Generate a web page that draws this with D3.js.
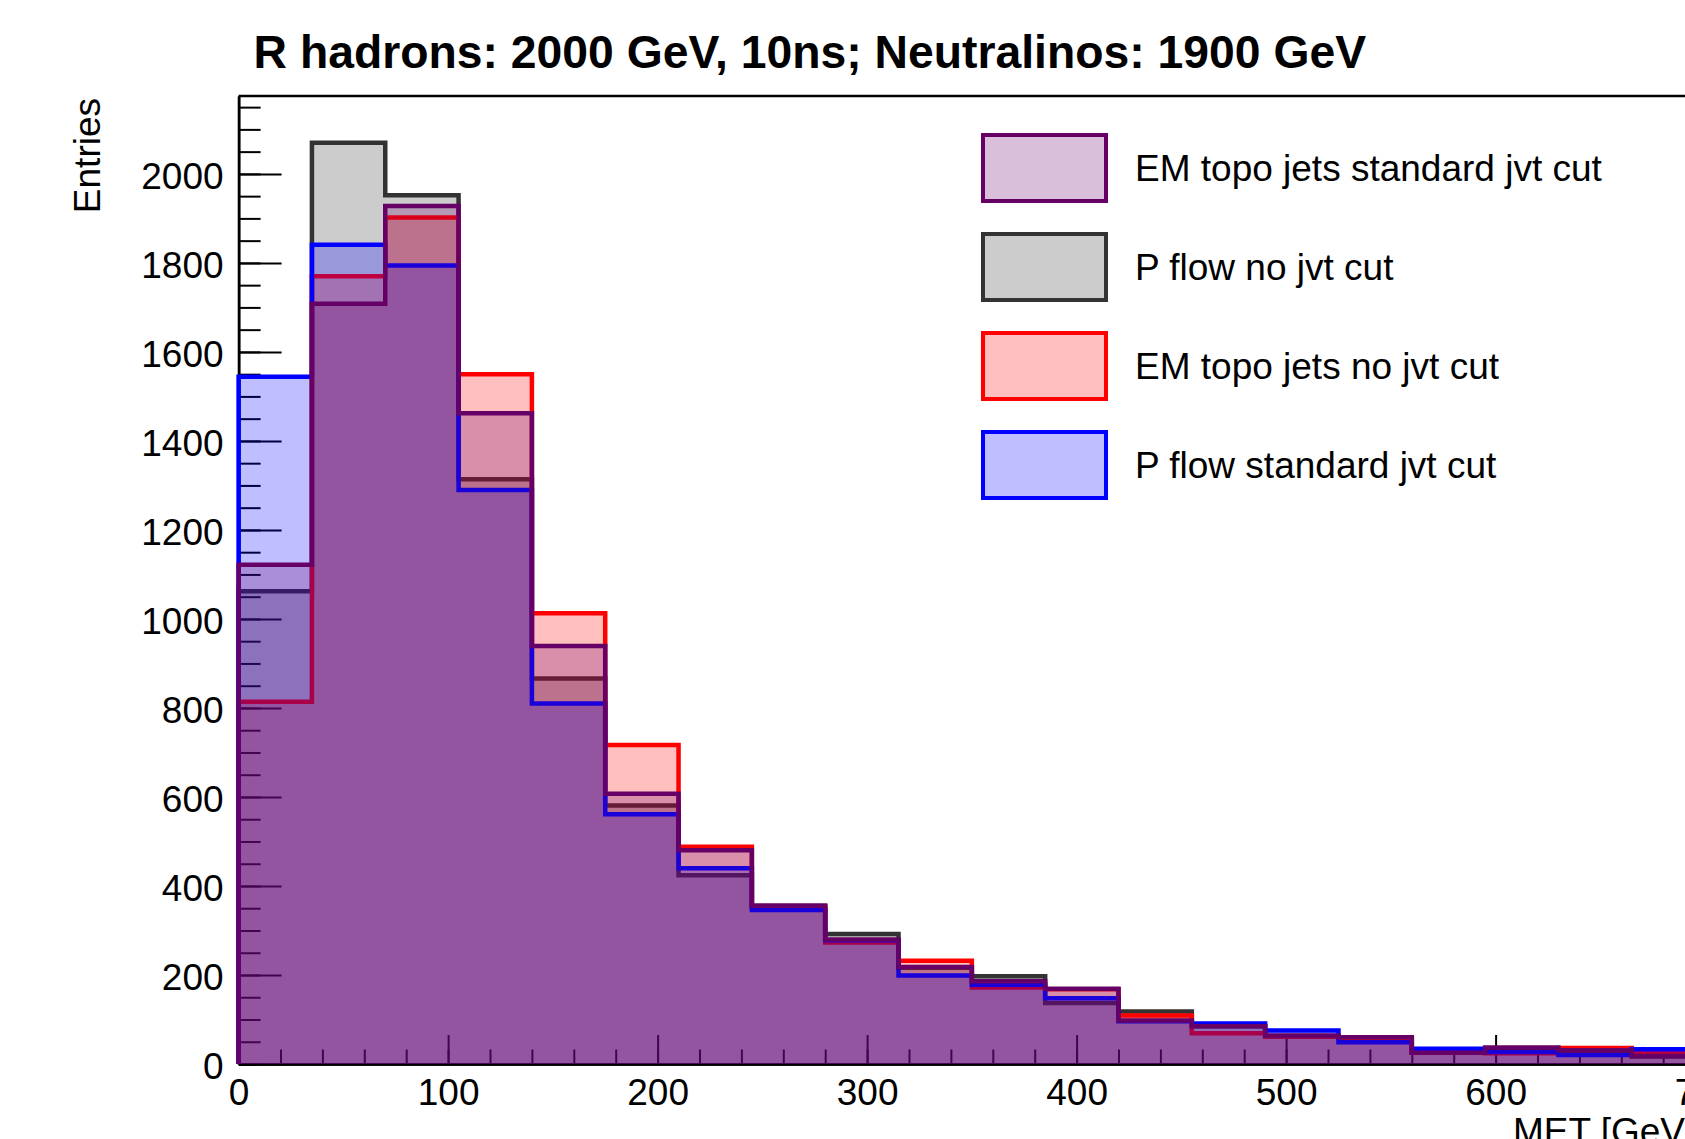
<!DOCTYPE html>
<html>
<head>
<meta charset="utf-8">
<script src="https://cdn.jsdelivr.net/npm/d3@7"></script>
<style>
  body { margin: 0; background: #fff; }
  text { font-family: "Liberation Sans", Arial, Helvetica, sans-serif; }
</style>
</head>
<body>
<div id="chart"></div>
<script>
// bin edges in GeV (35 GeV bins, only the part inside the picture)
const binEdges = [0, 35, 70, 105, 140, 175, 210, 245, 280, 315, 350, 385, 420, 455, 490, 525, 560, 595, 630, 665, 700];

// entries per bin
const pflowNoJvt   = [1062, 2070, 1952, 1314, 866, 581, 424, 352, 292, 216, 197, 137, 118, 85, 62, 59, 25, 35, 30, 17];
const emtopoNoJvt  = [814, 1770, 1902, 1550, 1013, 717, 488, 354, 273, 232, 172, 168, 109, 69, 62, 59, 25, 24, 36, 25];
const pflowStdJvt  = [1544, 1841, 1794, 1290, 810, 561, 440, 346, 278, 199, 178, 148, 96, 91, 75, 49, 34, 27, 20, 33];
const emtopoStdJvt = [1122, 1708, 1928, 1462, 939, 607, 480, 356, 280, 218, 186, 169, 98, 85, 64, 60, 25, 37, 31, 18];

const legendLabels = ["EM topo jets standard jvt cut", "P flow no jvt cut", "EM topo jets no jvt cut", "P flow standard jvt cut"];
const yMajorTicks = [0, 200, 400, 600, 800, 1000, 1200, 1400, 1600, 1800, 2000];
const xMajorTicks = [0, 100, 200, 300, 400, 500, 600, 700];

function main() {
    const W = 1685, H = 1139;
    const left = 238.6, bottom = 1064, top = 96;

    const svg = d3.select("#chart")
        .append("svg")
        .attr("width", W)
        .attr("height", H)
        .style("display", "block");

    svg.append("rect").attr("width", W).attr("height", H).attr("fill", "#fff");

    const x = d3.scaleLinear().domain([0, 700]).range([left, left + 7 * 209.5]);
    const y = d3.scaleLinear().domain([0, 2175]).range([bottom, top]);

    // axes first, histograms are painted over them like ROOT does
    const yMinor = d3.axisLeft(y).tickValues(d3.range(0, 2175, 50)).tickSize(-22).tickSizeOuter(0).tickFormat("");
    const yMajor = d3.axisLeft(y).tickValues(yMajorTicks).tickSize(-43).tickSizeOuter(0).tickPadding(15)
        .tickFormat(d3.format("d"));
    const xMinor = d3.axisBottom(x).tickValues(d3.range(0, 701, 20)).tickSize(-14.5).tickSizeOuter(0).tickFormat("");
    const xMajor = d3.axisBottom(x).tickValues(xMajorTicks).tickSize(-29).tickSizeOuter(0).tickPadding(14.5)
        .tickFormat(d3.format("d"));

    function styleAxis(g) {
        g.selectAll("path.domain").attr("stroke", "#000").attr("stroke-width", 2.5);
        g.selectAll(".tick line").attr("stroke", "#000").attr("stroke-width", 2);
        g.selectAll("text")
            .attr("font-size", 37)
            .attr("font-family", "Liberation Sans, Arial, sans-serif")
            .attr("fill", "#000");
    }

    svg.append("g").attr("transform", `translate(${left},0)`).call(yMinor).call(styleAxis);
    svg.append("g").attr("transform", `translate(${left},0)`).call(yMajor).call(styleAxis)
        .selectAll("text").attr("dy", "0.4em");
    svg.append("g").attr("transform", `translate(0,${bottom})`).call(xMinor).call(styleAxis);
    svg.append("g").attr("transform", `translate(0,${bottom})`).call(xMajor).call(styleAxis);

    // top of the frame
    svg.append("line")
        .attr("x1", left).attr("x2", W)
        .attr("y1", y(2175)).attr("y2", y(2175))
        .attr("stroke", "#000").attr("stroke-width", 2.5);

    const hists = [
        {values: pflowNoJvt, color: "#333333"},
        {values: emtopoNoJvt, color: "#ff0000"},
        {values: pflowStdJvt, color: "#0000ff"},
        {values: emtopoStdJvt, color: "#660066"}
    ];

    const area = d3.area()
        .x(d => x(d[0]))
        .y0(y(0))
        .y1(d => y(d[1]))
        .curve(d3.curveStepAfter);

    const line = d3.line()
        .x(d => x(d[0]))
        .y(d => y(d[1]))
        .curve(d3.curveStepAfter);

    const plot = svg.append("g");
    hists.forEach(h => {
        let pts = h.values.map((v, i) => [binEdges[i], v]);
        pts.push([binEdges[binEdges.length - 1], h.values[h.values.length - 1]]);

        plot.append("path")
            .attr("d", area(pts))
            .attr("fill", h.color)
            .attr("fill-opacity", 0.25);

        plot.append("path")
            .attr("d", line([[0, 0]].concat(pts)))
            .attr("fill", "none")
            .attr("stroke", h.color)
            .attr("stroke-width", 4.5);
    });

    // legend (same order as in the picture)
    const legendColors = ["#660066", "#333333", "#ff0000", "#0000ff"];
    const leg = svg.append("g");
    legendLabels.forEach((lab, i) => {
        const cy = 168 + i * 99;
        leg.append("rect")
            .attr("x", 983).attr("y", cy - 33)
            .attr("width", 123).attr("height", 66)
            .attr("fill", legendColors[i]).attr("fill-opacity", 0.25)
            .attr("stroke", legendColors[i]).attr("stroke-width", 4);
        leg.append("text")
            .attr("x", 1135).attr("y", cy + 13)
            .attr("font-size", 37)
            .text(lab);
    });

    // titles
    svg.append("text")
        .attr("x", 253.6).attr("y", 67.5)
        .attr("font-size", 46.3)
        .attr("font-weight", "bold")
        .text("R hadrons: 2000 GeV, 10ns; Neutralinos: 1900 GeV");

    svg.append("text")
        .attr("transform", "translate(100, 98) rotate(-90)")
        .attr("text-anchor", "end")
        .attr("font-size", 37)
        .text("Entries");

    // the canvas is cropped on the right and bottom, so "700" and this title run off the edge as in the source
    svg.append("text")
        .attr("x", 1513).attr("y", 1144)
        .attr("font-size", 37)
        .text("MET [GeV]");
}

main()
</script>
</body>
</html>
